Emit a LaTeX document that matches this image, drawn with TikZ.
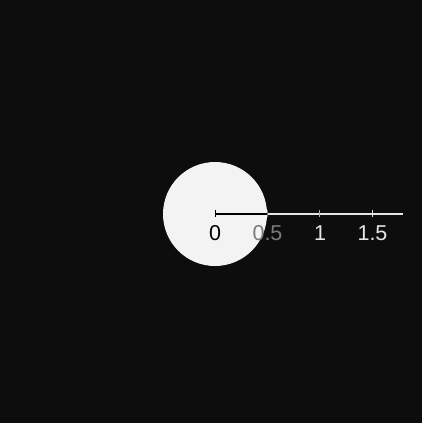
\documentclass[tikz,border=0pt]{standalone}
\usepackage{fontspec}
\setmainfont{Liberation Sans}
\definecolor{bg}{HTML}{0D0D0D}
\definecolor{disc}{HTML}{F3F3F3}
\definecolor{midgray}{HTML}{7A7A7A}
\definecolor{lightgray}{HTML}{E6E6E6}
\begin{document}
\begin{tikzpicture}[x=1pt,y=-1pt,
  lbl/.style={inner sep=0pt, font=\fontsize{21.5}{25}\selectfont},
  tickmark/.style={line width=1pt}]
\useasboundingbox (0,0) rectangle (422,423);
\fill[bg] (0,0) rectangle (422,423);
\node[circle, fill=disc, draw=none, minimum size=104pt, inner sep=0pt] (disc) at (215,214) {};
\coordinate (o) at (215,214);
\coordinate (h) at (267,214);
\coordinate (e) at (403,214);
% axis
\draw[black, line width=1.1pt] (o) -- (h);
\draw[lightgray, line width=1.1pt] (h) -- (e);
% ticks
\draw[tickmark, black] (215,209.5) -- (215,216.5);
\draw[tickmark, midgray] (267,209.5) -- (267,216.5);
\draw[tickmark, midgray!50!lightgray] (319.5,209.5) -- (319.5,216.5);
\draw[tickmark, lightgray] (372,209.5) -- (372,216.5);
% labels
\node[lbl, text=black] (l0) at (215,233.5) {0};
\node[lbl, text=midgray] (l05) at (267.5,233.5) {0.5};
\node[lbl, text=lightgray] (l1) at (320,233.5) {1};
\node[lbl, text=lightgray] (l15) at (372.5,233.5) {1.5};
\end{tikzpicture}
\end{document}
